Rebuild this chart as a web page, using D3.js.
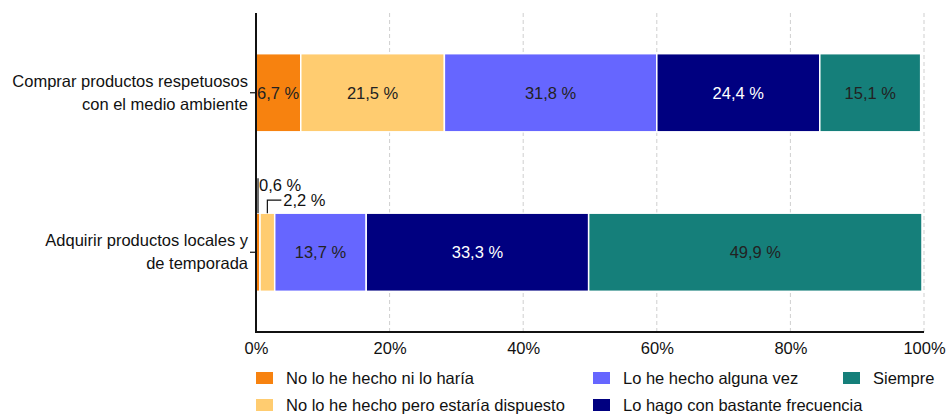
<!DOCTYPE html>
<html>
<head>
<meta charset="utf-8">
<script src="https://cdn.jsdelivr.net/npm/d3@7"></script>
<style>
  html, body { margin: 0; padding: 0; background: #fff; }
  svg { display: block; font-family: "Liberation Sans", Arial, sans-serif; }
</style>
</head>
<body>
<svg id="chart" width="946" height="414"></svg>
<script>
// Categories (top to bottom), each split into five answer groups
const categories = [
  ["Comprar productos respetuosos", "con el medio ambiente"],
  ["Adquirir productos locales y", "de temporada"]
];
const seriesNames = [
  "No lo he hecho ni lo haría",
  "No lo he hecho pero estaría dispuesto",
  "Lo he hecho alguna vez",
  "Lo hago con bastante frecuencia",
  "Siempre"
];
const seriesColors = ["#F7820F", "#FFCC70", "#6666FF", "#000080", "#157F7A"];
const labelColors = ["#222", "#222", "#222", "#fff", "#222"];
// Percentages per category, in series order
const valuesRespetuosos = [6.7, 21.5, 31.8, 24.4, 15.1];
const valuesLocales = [0.6, 2.2, 13.7, 33.3, 49.9];
const tickValues = [0, 20, 40, 60, 80, 100];

const rows = [valuesRespetuosos, valuesLocales];
const fmt = v => v.toFixed(1).replace(".", ",") + " %";
const FS = 16.5;

const svg = d3.select("#chart");
const W = 946;
const plotLeft = 256, plotRight = 924, plotTop = 13, plotBottom = 332;

const x = d3.scaleLinear().domain([0, 100]).range([plotLeft, plotRight]);
const y = d3.scaleBand().domain(d3.range(categories.length))
  .range([plotTop, plotBottom]).paddingInner(0.51).paddingOuter(0.255);

// Dashed vertical gridlines
svg.append("g").selectAll("line").data(tickValues.slice(1)).join("line")
  .attr("x1", d => x(d)).attr("x2", d => x(d))
  .attr("y1", plotTop).attr("y2", plotBottom)
  .attr("stroke", "#cfcfcf").attr("stroke-width", 1).attr("stroke-dasharray", "4,3");

// Stacked bars
rows.forEach((vals, i) => {
  let acc = 0;
  const g = svg.append("g");
  vals.forEach((v, j) => {
    const x0 = acc, x1 = acc + v;
    acc = x1;
    g.append("rect")
      .attr("x", x(x0)).attr("y", y(i))
      .attr("width", x(x1) - x(x0)).attr("height", y.bandwidth())
      .attr("fill", seriesColors[j])
      .attr("stroke", "#fff").attr("stroke-width", 1.5);
    if (v >= 5) {
      g.append("text")
        .attr("x", v < 8 ? x(x0) + 1 : (x(x0) + x(x1)) / 2)
        .attr("y", y(i) + y.bandwidth() / 2)
        .attr("dy", "0.35em")
        .attr("text-anchor", v < 8 ? "start" : "middle")
        .attr("font-size", FS)
        .attr("fill", labelColors[j])
        .text(fmt(v));
    }
  });
});

// Leader labels for the two thin segments of the second bar
(function () {
  const vals = valuesLocales;
  const top = y(1);
  const c0 = x(vals[0] / 2);
  const c1 = x(vals[0] + vals[1] / 2);
  const g = svg.append("g");
  g.append("line").attr("x1", c0).attr("x2", c0).attr("y1", top).attr("y2", top - 35)
    .attr("stroke", "#111").attr("stroke-width", 1.2);
  g.append("text").attr("x", c0 + 1).attr("y", top - 22).attr("font-size", FS).attr("fill", "#111")
    .text(fmt(vals[0]));
  g.append("polyline")
    .attr("points", `${c1},${top} ${c1},${top - 13} ${c1 + 14},${top - 13}`)
    .attr("fill", "none").attr("stroke", "#111").attr("stroke-width", 1.2);
  g.append("text").attr("x", c1 + 16).attr("y", top - 7).attr("font-size", FS).attr("fill", "#111")
    .text(fmt(vals[1]));
})();

// Axes
const xAxis = d3.axisBottom(x).tickValues(tickValues).tickFormat(d => d + "%").tickSize(0).tickPadding(10);
const gx = svg.append("g").attr("transform", `translate(0,${plotBottom})`).call(xAxis);
gx.select(".domain").attr("stroke", "#111").attr("stroke-width", 2)
  .attr("d", `M${plotLeft},0H${plotRight}`);
gx.selectAll(".tick text").attr("font-size", FS).attr("fill", "#111")
  .attr("font-family", "Liberation Sans, Arial, sans-serif");

const yAxis = d3.axisLeft(y).tickSize(6).tickFormat("");
const gy = svg.append("g").attr("transform", `translate(${plotLeft},0)`).call(yAxis);
gy.select(".domain").attr("stroke", "#111").attr("stroke-width", 2)
  .attr("d", `M0,${plotTop}V${plotBottom + 1}`);
gy.selectAll(".tick line").attr("stroke", "#111").attr("stroke-width", 1.2);

// Category labels (two lines, right-aligned)
svg.append("g").selectAll("text").data(categories).join("text")
  .attr("y", (d, i) => y(i) + y.bandwidth() / 2)
  .attr("text-anchor", "end").attr("font-size", FS).attr("fill", "#111")
  .selectAll("tspan").data(d => d).join("tspan")
  .attr("x", plotLeft - 8)
  .attr("dy", (d, k) => k === 0 ? -6 : 23)
  .text(d => d);

// Legend
const legendPos = [
  [256, 378], [256, 405], [593, 378], [593, 405], [843, 378]
];
const lg = svg.append("g");
seriesNames.forEach((name, j) => {
  const [lx, ly] = legendPos[j];
  lg.append("rect").attr("x", lx).attr("y", ly - 6).attr("width", 17).attr("height", 12)
    .attr("fill", seriesColors[j]);
  lg.append("text").attr("x", lx + 30).attr("y", ly).attr("dy", "0.35em")
    .attr("font-size", FS).attr("fill", "#111").text(name);
});
</script>
</body>
</html>
